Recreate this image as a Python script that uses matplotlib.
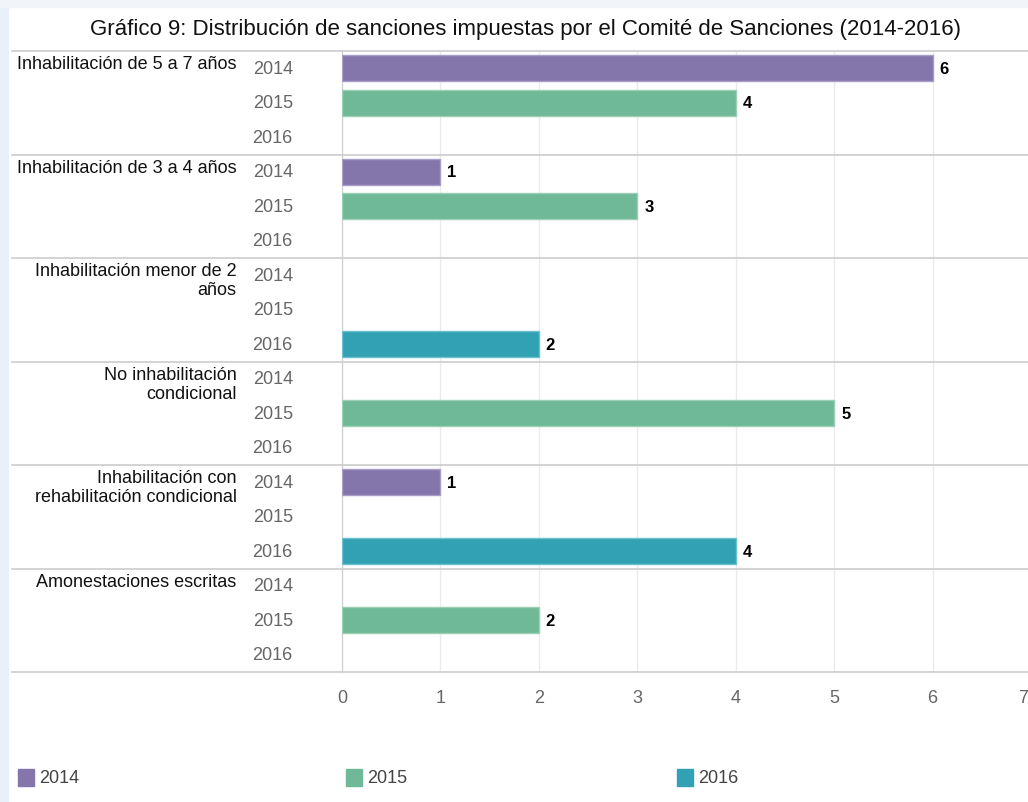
import numpy as np
import matplotlib.pyplot as plt
from matplotlib.patches import Rectangle

plt.rcParams['font.family'] = ['Liberation Sans', 'DejaVu Sans']

categorias = [
    "Inhabilitación de 5 a 7 años",
    "Inhabilitación de 3 a 4 años",
    "Inhabilitación menor de 2\naños",
    "No inhabilitación\ncondicional",
    "Inhabilitación con\nrehabilitación condicional",
    "Amonestaciones escritas",
]
anios = ["2014", "2015", "2016"]
# valores por año (None = sin barra)
v2014 = [6, 1, None, None, 1, None]
v2015 = [4, 3, None, 5, None, 2]
v2016 = [None, None, 2, None, 4, None]
xticks = [0, 1, 2, 3, 4, 5, 6, 7]
colores = ["#8476aa", "#6fb998", "#31a1b3"]
bordes = ["#a89dc6", "#9bd0b6", "#6cc0cd"]

fig = plt.figure(figsize=(10.28, 8.03), dpi=100)
W, H = 1028, 803

# marco claro a la izquierda/arriba
fig.patches.append(Rectangle((0, 0), 8 / W, 1, transform=fig.transFigure, color="#eaf0f9", zorder=0))
fig.patches.append(Rectangle((0, 1 - 8 / H), 1, 8 / H, transform=fig.transFigure, color="#f1f4f9", zorder=0))

ax = fig.add_axes([342 / W, (H - 673) / H, 689 / W, (673 - 52) / H])

series = [v2014, v2015, v2016]
n = len(categorias)
for g in range(n):
    for k, vals in enumerate(series):
        v = vals[g]
        y = g * 3 + k
        ax.text(-0.5, y, anios[k], ha="right", va="center", fontsize=13, color="#666666")
        if v is None:
            continue
        ax.barh(y, v, height=0.76, color=colores[k], edgecolor=bordes[k], linewidth=1, zorder=3)
        ax.annotate(str(v), (v, y), xytext=(5, 0), textcoords="offset points",
                    ha="left", va="center", fontsize=12, fontweight="bold", color="black")
    ax.text(-1.07, g * 3 - 0.38, categorias[g], ha="right", va="top", fontsize=13,
            color="#111111", linespacing=1.15)

# separadores de grupo
ytr = ax.get_yaxis_transform()
for g in range(n + 1):
    ax.plot([-0.479, 1.0], [g * 3 - 0.5, g * 3 - 0.5], transform=ytr, color="#cccccc",
            lw=1.2, clip_on=False, zorder=4)

ax.set_xlim(0, 7)
ax.set_ylim(n * 3 - 0.5, -0.5)
ax.set_xticks(xticks, labels=[str(t) if t < xticks[-1] else "" for t in xticks])
# la última etiqueta queda pegada al borde derecho
xtr = ax.get_xaxis_transform()
ax.annotate(str(xticks[-1]), (xticks[-1], 0), xycoords=xtr, xytext=(-2, -12),
            textcoords="offset points", ha="right", va="top", fontsize=13, color="#666666",
            annotation_clip=False)
ax.xaxis.grid(True, color="#ebebeb", lw=1)
ax.set_axisbelow(True)
ax.set_yticks([])
for s in ["top", "right", "bottom"]:
    ax.spines[s].set_visible(False)
ax.spines["left"].set_color("#cccccc")
ax.tick_params(axis="x", length=0, pad=12, labelsize=13, labelcolor="#666666")

fig.text(525 / W, 1 - 30 / H, "Gráfico 9: Distribución de sanciones impuestas por el Comité de Sanciones (2014-2016)",
         ha="center", va="center", fontsize=16, color="#111111")

# leyenda
leg_x = [18, 346, 677]
for k in range(3):
    fig.patches.append(Rectangle((leg_x[k] / W, (H - 787) / H), 16 / W, 17 / H,
                                 transform=fig.transFigure, color=colores[k]))
    fig.text((leg_x[k] + 21) / W, 1 - 779 / H, anios[k], ha="left", va="center",
             fontsize=13, color="#444444")

fig.savefig("out.png", dpi=100)
